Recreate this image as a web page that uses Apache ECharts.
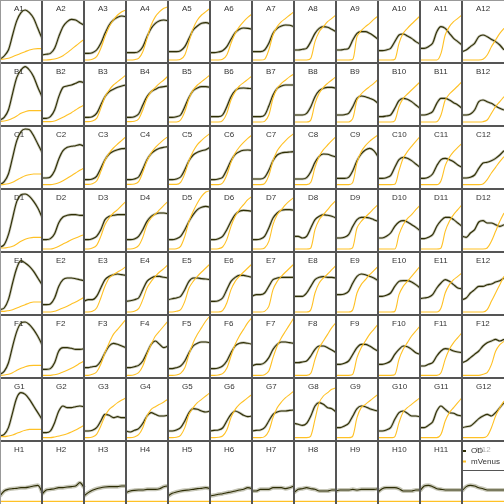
<!DOCTYPE html>
<html><head><meta charset="utf-8">
<script src="https://cdn.jsdelivr.net/npm/echarts@6/dist/echarts.min.js"></script>
<style>html,body{margin:0;padding:0;background:#fff}#c{width:504px;height:504px}</style>
</head><body><div id="c"></div>
<script>
// time axis: percent of run, sampled every 10%
const timePct = [0,10,20,30,40,50,60,70,80,90,100];
const rowLetters = ['A','B','C','D','E','F','G','H'];
const colNumbers = [1,2,3,4,5,6,7,8,9,10,11,12];
const legendNames = ['OD','mVenus'];

const OD_A = [
 [11,21,39,84,127,151,159,151,134,104,74],
 [24,26,29,44,79,109,124,131,129,121,114],
 [29,29,31,39,59,89,114,129,137,141,139],
 [31,31,31,34,49,79,104,119,127,129,127],
 [34,34,34,37,49,74,99,111,119,121,117],
 [31,31,33,37,49,71,91,101,105,104,101],
 [34,34,34,39,59,89,104,111,114,113,109],
 [39,39,41,44,64,89,104,109,107,101,94],
 [39,39,41,44,69,89,94,94,89,81,71],
 [37,37,39,44,64,84,87,81,74,64,57],
 [44,44,49,59,94,109,104,89,74,64,54],
 [34,39,49,59,79,84,79,71,64,54,39]];
const MV_A = [
 [11,12,14,19,24,29,34,39,42,43,43],
 [9,9,10,12,16,22,31,41,51,61,71],
 [9,9,11,19,44,79,109,129,144,154,159],
 [9,9,10,14,34,74,114,139,154,164,169],
 [9,9,9,11,24,64,104,129,144,154,164],
 [9,9,9,11,24,59,89,109,124,137,147],
 [9,9,9,11,39,84,109,124,134,144,154],
 [9,9,9,9,14,64,94,109,124,134,144],
 [9,9,9,9,11,79,97,109,119,131,141],
 [9,9,9,9,11,59,89,104,117,129,141],
 [9,9,9,9,9,29,84,109,124,134,144],
 [9,9,9,9,9,11,24,49,69,89,104]];
const OD_B = [
 [18,26,48,98,146,168,178,168,148,116,88],
 [23,23,28,48,88,116,120,123,128,133,130],
 [26,26,28,38,63,88,103,110,116,120,123],
 [26,26,28,36,63,88,103,110,116,118,120],
 [26,26,28,33,58,86,106,114,118,118,116],
 [28,28,28,33,58,88,106,113,114,113,112],
 [28,28,28,33,60,93,113,120,123,123,123],
 [33,33,33,38,58,88,106,113,116,116,113],
 [33,33,34,38,58,83,90,88,83,78,68],
 [28,28,30,33,53,76,83,80,73,63,53],
 [33,33,36,43,68,83,83,78,70,63,53],
 [33,33,36,48,73,78,73,68,60,53,48]];
const MV_B = [
 [13,15,18,23,30,38,43,46,46,46,46],
 [13,13,13,15,20,26,33,40,48,56,63],
 [13,13,15,23,53,88,108,123,133,143,153],
 [13,13,14,21,48,83,103,116,128,138,150],
 [12,12,12,18,43,83,108,123,133,143,153],
 [12,12,12,16,38,78,103,120,130,140,150],
 [12,12,12,14,33,83,113,128,138,148,156],
 [12,12,12,12,18,68,98,116,128,138,148],
 [12,12,12,12,23,78,96,108,118,128,140],
 [12,12,12,12,16,58,83,96,108,120,132],
 [12,12,12,12,13,33,78,96,108,120,133],
 [12,12,12,12,12,13,18,38,58,73,88]];
const OD_C = [
 [13,22,45,95,145,172,180,178,160,135,110],
 [33,33,36,55,90,115,125,128,130,133,128],
 [28,28,30,38,62,88,105,113,118,121,122],
 [28,28,30,36,60,88,106,116,122,125,127],
 [28,28,30,36,58,85,102,110,115,118,125],
 [28,28,30,35,58,85,104,112,116,117,116],
 [30,30,30,35,56,85,102,108,110,111,112],
 [30,30,30,34,52,80,98,105,104,100,96],
 [32,32,32,35,55,85,105,117,122,115,97],
 [32,32,34,40,65,88,95,92,85,75,65],
 [32,32,35,45,70,88,92,88,82,72,65],
 [33,33,35,42,62,78,80,85,92,102,115]];
const MV_C = [
 [13,14,16,20,27,34,40,43,45,45,45],
 [13,13,13,15,19,25,32,40,48,56,63],
 [14,14,16,24,52,86,108,123,135,146,157],
 [14,14,15,22,50,85,108,125,137,148,157],
 [14,14,14,20,46,85,113,133,146,157,167],
 [13,13,13,18,42,80,108,126,140,152,162],
 [13,13,13,16,40,85,115,132,145,157,167],
 [13,13,13,13,20,65,98,118,132,145,157],
 [13,13,13,13,20,80,112,130,143,153,162],
 [13,13,13,13,14,55,92,112,128,143,157],
 [13,13,13,13,13,25,70,95,112,125,137],
 [13,13,13,13,13,15,28,48,65,82,97]];
const OD_D = [
 [14,22,52,102,152,172,174,167,152,132,104],
 [37,37,40,55,88,105,110,112,112,110,110],
 [37,37,40,47,67,97,107,110,112,112,112],
 [37,37,39,47,67,92,107,114,117,117,115],
 [37,37,40,47,67,92,112,127,134,137,134],
 [37,37,40,47,67,92,112,122,125,124,122],
 [37,37,39,47,72,102,117,125,127,127,125],
 [47,47,42,47,72,97,107,112,110,107,102],
 [42,42,44,52,77,97,104,104,102,97,92],
 [42,42,47,57,77,90,94,90,82,74,64],
 [40,40,44,52,77,94,104,104,97,87,77],
 [47,44,57,67,90,94,87,87,82,77,82]];
const MV_D = [
 [12,12,14,17,24,32,38,42,44,44,44],
 [9,9,9,12,17,24,30,37,42,47,52],
 [9,9,12,20,47,82,102,117,127,140,152],
 [9,9,11,19,44,82,102,114,127,140,152],
 [9,9,10,17,47,92,122,147,167,180,184],
 [9,9,10,15,37,77,107,127,142,157,167],
 [9,9,9,12,32,82,112,127,142,154,164],
 [9,9,9,9,12,67,97,112,127,142,155],
 [9,9,9,9,14,72,92,105,117,130,142],
 [9,9,9,9,9,52,82,100,112,127,140],
 [9,9,9,9,9,12,62,92,112,127,142],
 [9,9,9,9,9,9,12,32,62,92,117]];
const OD_E = [
 [16,21,46,96,141,163,156,146,131,111,91],
 [31,31,33,51,86,106,111,111,109,106,103],
 [41,46,46,56,81,106,116,121,123,121,119],
 [41,43,46,51,76,101,111,116,116,113,111],
 [46,49,51,56,76,101,111,111,109,108,106],
 [41,41,43,51,76,101,113,119,119,116,113],
 [56,61,61,66,86,106,111,113,113,113,113],
 [56,56,56,66,86,106,113,115,113,113,111],
 [61,61,63,71,96,116,123,121,116,111,103],
 [56,56,59,66,86,101,103,103,99,91,81],
 [49,51,53,61,81,96,106,101,91,81,79],
 [46,51,66,76,86,86,91,93,99,103,111]];
const MV_E = [
 [11,11,13,16,21,26,31,36,39,39,39],
 [9,9,9,11,16,21,26,33,39,46,53],
 [9,9,11,21,51,86,111,121,129,136,146],
 [9,9,11,19,46,81,101,116,129,139,151],
 [9,9,11,16,41,81,101,116,129,141,153],
 [9,9,9,13,36,76,101,116,129,141,153],
 [9,9,9,11,26,76,101,116,129,141,153],
 [9,9,9,9,16,66,96,111,123,136,149],
 [9,9,9,9,16,66,91,106,121,133,146],
 [9,9,9,9,11,61,86,101,116,131,146],
 [9,9,9,9,9,21,66,91,106,116,126],
 [9,9,9,9,9,9,16,41,66,91,116]];
const OD_F = [
 [11,20,45,95,140,165,168,160,145,125,100],
 [26,26,28,46,81,91,91,89,86,86,88],
 [31,31,34,36,51,76,96,104,101,96,91],
 [31,31,34,38,51,76,101,111,101,91,96],
 [28,28,31,36,51,76,96,104,108,108,106],
 [28,28,30,36,51,76,96,104,106,104,101],
 [36,41,41,46,61,86,101,108,108,106,104],
 [46,46,48,51,66,86,96,96,91,84,76],
 [41,41,44,51,71,91,101,101,96,88,81],
 [41,41,44,51,71,86,96,94,86,76,71],
 [36,36,41,46,66,81,88,86,81,78,76],
 [46,51,61,71,81,96,106,111,116,111,116]];
const MV_F = [
 [8,9,11,16,23,29,34,37,38,38,38],
 [8,8,8,10,13,18,23,29,36,44,51],
 [8,8,11,18,41,76,106,131,146,161,176],
 [8,8,10,16,36,71,101,126,141,156,171],
 [8,8,9,14,31,71,106,131,151,171,186],
 [8,8,9,13,29,66,101,126,146,166,181],
 [8,8,8,10,21,61,96,121,141,161,181],
 [8,8,8,8,14,56,91,111,131,151,166],
 [8,8,8,8,11,61,91,111,131,146,161],
 [8,8,8,8,10,56,86,106,126,141,156],
 [8,8,8,8,8,16,56,86,106,121,136],
 [8,8,8,8,8,11,16,40,80,100,110]];
const OD_G = [
 [15,20,40,85,130,145,140,125,105,85,65],
 [25,25,30,55,90,105,100,100,103,105,103],
 [30,30,32,40,60,80,77,70,73,70,70],
 [30,27,32,37,53,75,85,80,75,75,77],
 [30,30,33,40,60,85,97,95,90,87,90],
 [30,32,33,39,60,80,90,85,77,73,75],
 [30,32,33,40,60,80,87,90,90,92,93],
 [53,50,47,53,75,105,115,110,100,97,87],
 [40,40,45,53,75,97,105,103,97,93,90],
 [30,30,33,40,65,85,90,83,75,75,73],
 [40,40,47,57,90,105,95,85,83,77,75],
 [40,43,45,55,67,75,80,75,85,100,115]];
const MV_G = [
 [13,13,15,18,23,28,32,35,35,35,35],
 [10,10,10,12,15,18,22,27,33,40,47],
 [10,10,12,20,45,75,95,105,115,123,130],
 [10,10,12,19,40,75,95,103,110,117,125],
 [10,10,11,17,40,80,100,115,125,135,145],
 [10,10,11,15,33,70,95,110,120,130,140],
 [10,10,10,13,30,70,100,117,130,140,150],
 [10,10,10,10,15,65,115,135,145,155,160],
 [10,10,10,10,15,70,100,110,120,130,140],
 [10,10,10,10,13,55,87,100,110,120,130],
 [10,10,10,10,10,20,60,85,100,115,130],
 [10,10,10,10,10,10,15,40,75,100,120]];
const OD_H = [
 [24,39,44,46,47,49,49,51,54,56,34],
 [29,42,44,46,49,49,51,52,54,64,49],
 [24,34,41,46,49,51,52,52,52,54,54],
 [34,39,41,42,42,44,44,44,46,52,54],
 [24,32,36,39,41,42,44,46,47,49,46],
 [24,26,29,31,34,36,39,42,44,49,46],
 [39,39,44,44,44,49,49,49,46,49,54],
 [34,44,46,49,46,44,39,39,39,42,42],
 [39,42,42,42,44,42,44,44,44,44,46],
 [36,46,49,49,49,46,39,39,39,42,42],
 [39,54,56,52,46,44,42,42,42,42,42],
 [39,52,56,54,49,46,42,42,42,42,42]];
const MV_H = [
 [8,8,8,8,8,8,8,8,8,8,8],[8,8,8,8,8,8,8,8,8,8,8],[8,8,8,8,8,8,8,8,8,8,8],
 [8,8,8,8,8,8,8,8,8,8,8],[8,8,8,8,8,8,8,8,8,8,8],[8,8,8,8,8,8,8,8,8,8,8],
 [8,8,8,8,8,8,8,8,8,8,8],[8,8,8,8,8,8,8,8,8,8,8],[8,8,8,8,8,8,8,8,8,8,8],
 [8,8,8,8,8,8,8,8,8,8,8],[8,8,8,8,8,8,8,8,8,8,8],[8,8,8,8,8,8,8,8,8,8,8]];

const OD_ROWS = [OD_A,OD_B,OD_C,OD_D,OD_E,OD_F,OD_G,OD_H];
const MV_ROWS = [MV_A,MV_B,MV_C,MV_D,MV_E,MV_F,MV_G,MV_H];

// layout / style
const PW = 42, PH = 63, Y_MAX = 189;
const FONT = '"Liberation Sans", Arial, sans-serif';
const OD_COLOR = '#2e2e05', OD_BAND = 'rgba(70,70,20,0.3)', MV_COLOR = '#FFC125';

const grids = [], xAxes = [], yAxes = [], series = [], titles = [], graphics = [];
rowLetters.forEach((rl, r) => {
  colNumbers.forEach((cn, c) => {
    const idx = r * colNumbers.length + c;
    grids.push({left: PW * c, top: PH * r, width: PW, height: PH, containLabel: false});
    xAxes.push({gridIndex: idx, type: 'value', min: 0, max: 100, show: false});
    yAxes.push({gridIndex: idx, type: 'value', min: 0, max: Y_MAX, show: false});
    const od = OD_ROWS[r][c].map((v, i) => [timePct[i], v]);
    const mv = MV_ROWS[r][c].map((v, i) => [timePct[i], v]);
    const common = {type: 'line', xAxisIndex: idx, yAxisIndex: idx, symbol: 'none', showSymbol: false,
      smooth: 0.3, animation: false, silent: true};
    series.push(Object.assign({}, common, {name: 'OD', data: od, z: 2,
      lineStyle: {color: OD_BAND, width: r === 7 ? 4 : 2.6}, itemStyle: {color: OD_COLOR}}));
    series.push(Object.assign({}, common, {name: 'OD', data: od, z: 3,
      lineStyle: {color: OD_COLOR, width: 1.1}, itemStyle: {color: OD_COLOR}}));
    series.push(Object.assign({}, common, {name: 'mVenus', data: mv, z: 4,
      lineStyle: {color: MV_COLOR, width: 1.1}, itemStyle: {color: MV_COLOR}}));
    titles.push({text: rl + cn, left: PW * c + 14, top: PH * r + 5, padding: 0, z: 3,
      textStyle: {fontSize: 8, fontWeight: 'normal', color: '#333', fontFamily: FONT}});
  });
});
for (let c = 1; c < colNumbers.length; c++) {
  graphics.push({type: 'line', z: 20, silent: true, shape: {x1: PW * c, y1: 0, x2: PW * c, y2: 504},
    style: {stroke: '#555', lineWidth: 2}});
}
for (let r = 1; r < rowLetters.length; r++) {
  graphics.push({type: 'line', z: 20, silent: true, shape: {x1: 0, y1: PH * r, x2: 504, y2: PH * r},
    style: {stroke: '#555', lineWidth: 2}});
}
graphics.push({type: 'line', z: 20, silent: true, shape: {x1: 0.5, y1: 0, x2: 0.5, y2: 504}, style: {stroke: '#999', lineWidth: 1}});
graphics.push({type: 'line', z: 20, silent: true, shape: {x1: 0, y1: 0.5, x2: 504, y2: 0.5}, style: {stroke: '#999', lineWidth: 1}});

const chart = echarts.init(document.getElementById('c'), null, {renderer: 'canvas'});
chart.setOption({
  backgroundColor: '#fff',
  animation: false,
  title: titles,
  grid: grids,
  xAxis: xAxes,
  yAxis: yAxes,
  series: series,
  graphic: graphics,
  legend: {
    orient: 'vertical', left: 462, top: 441, z: 10,
    padding: [5, 30, 4, 1], itemGap: 0.5, itemWidth: 3, itemHeight: 2,
    backgroundColor: 'rgba(255,255,255,0.6)', borderColor: '#555', borderWidth: 1,
    selectedMode: false,
    textStyle: {fontSize: 8, color: '#333', fontFamily: FONT, lineHeight: 10},
    data: [
      {name: legendNames[0], icon: 'rect', itemStyle: {color: OD_COLOR}},
      {name: legendNames[1], icon: 'rect', itemStyle: {color: MV_COLOR}}
    ]
  }
});
</script></body></html>
